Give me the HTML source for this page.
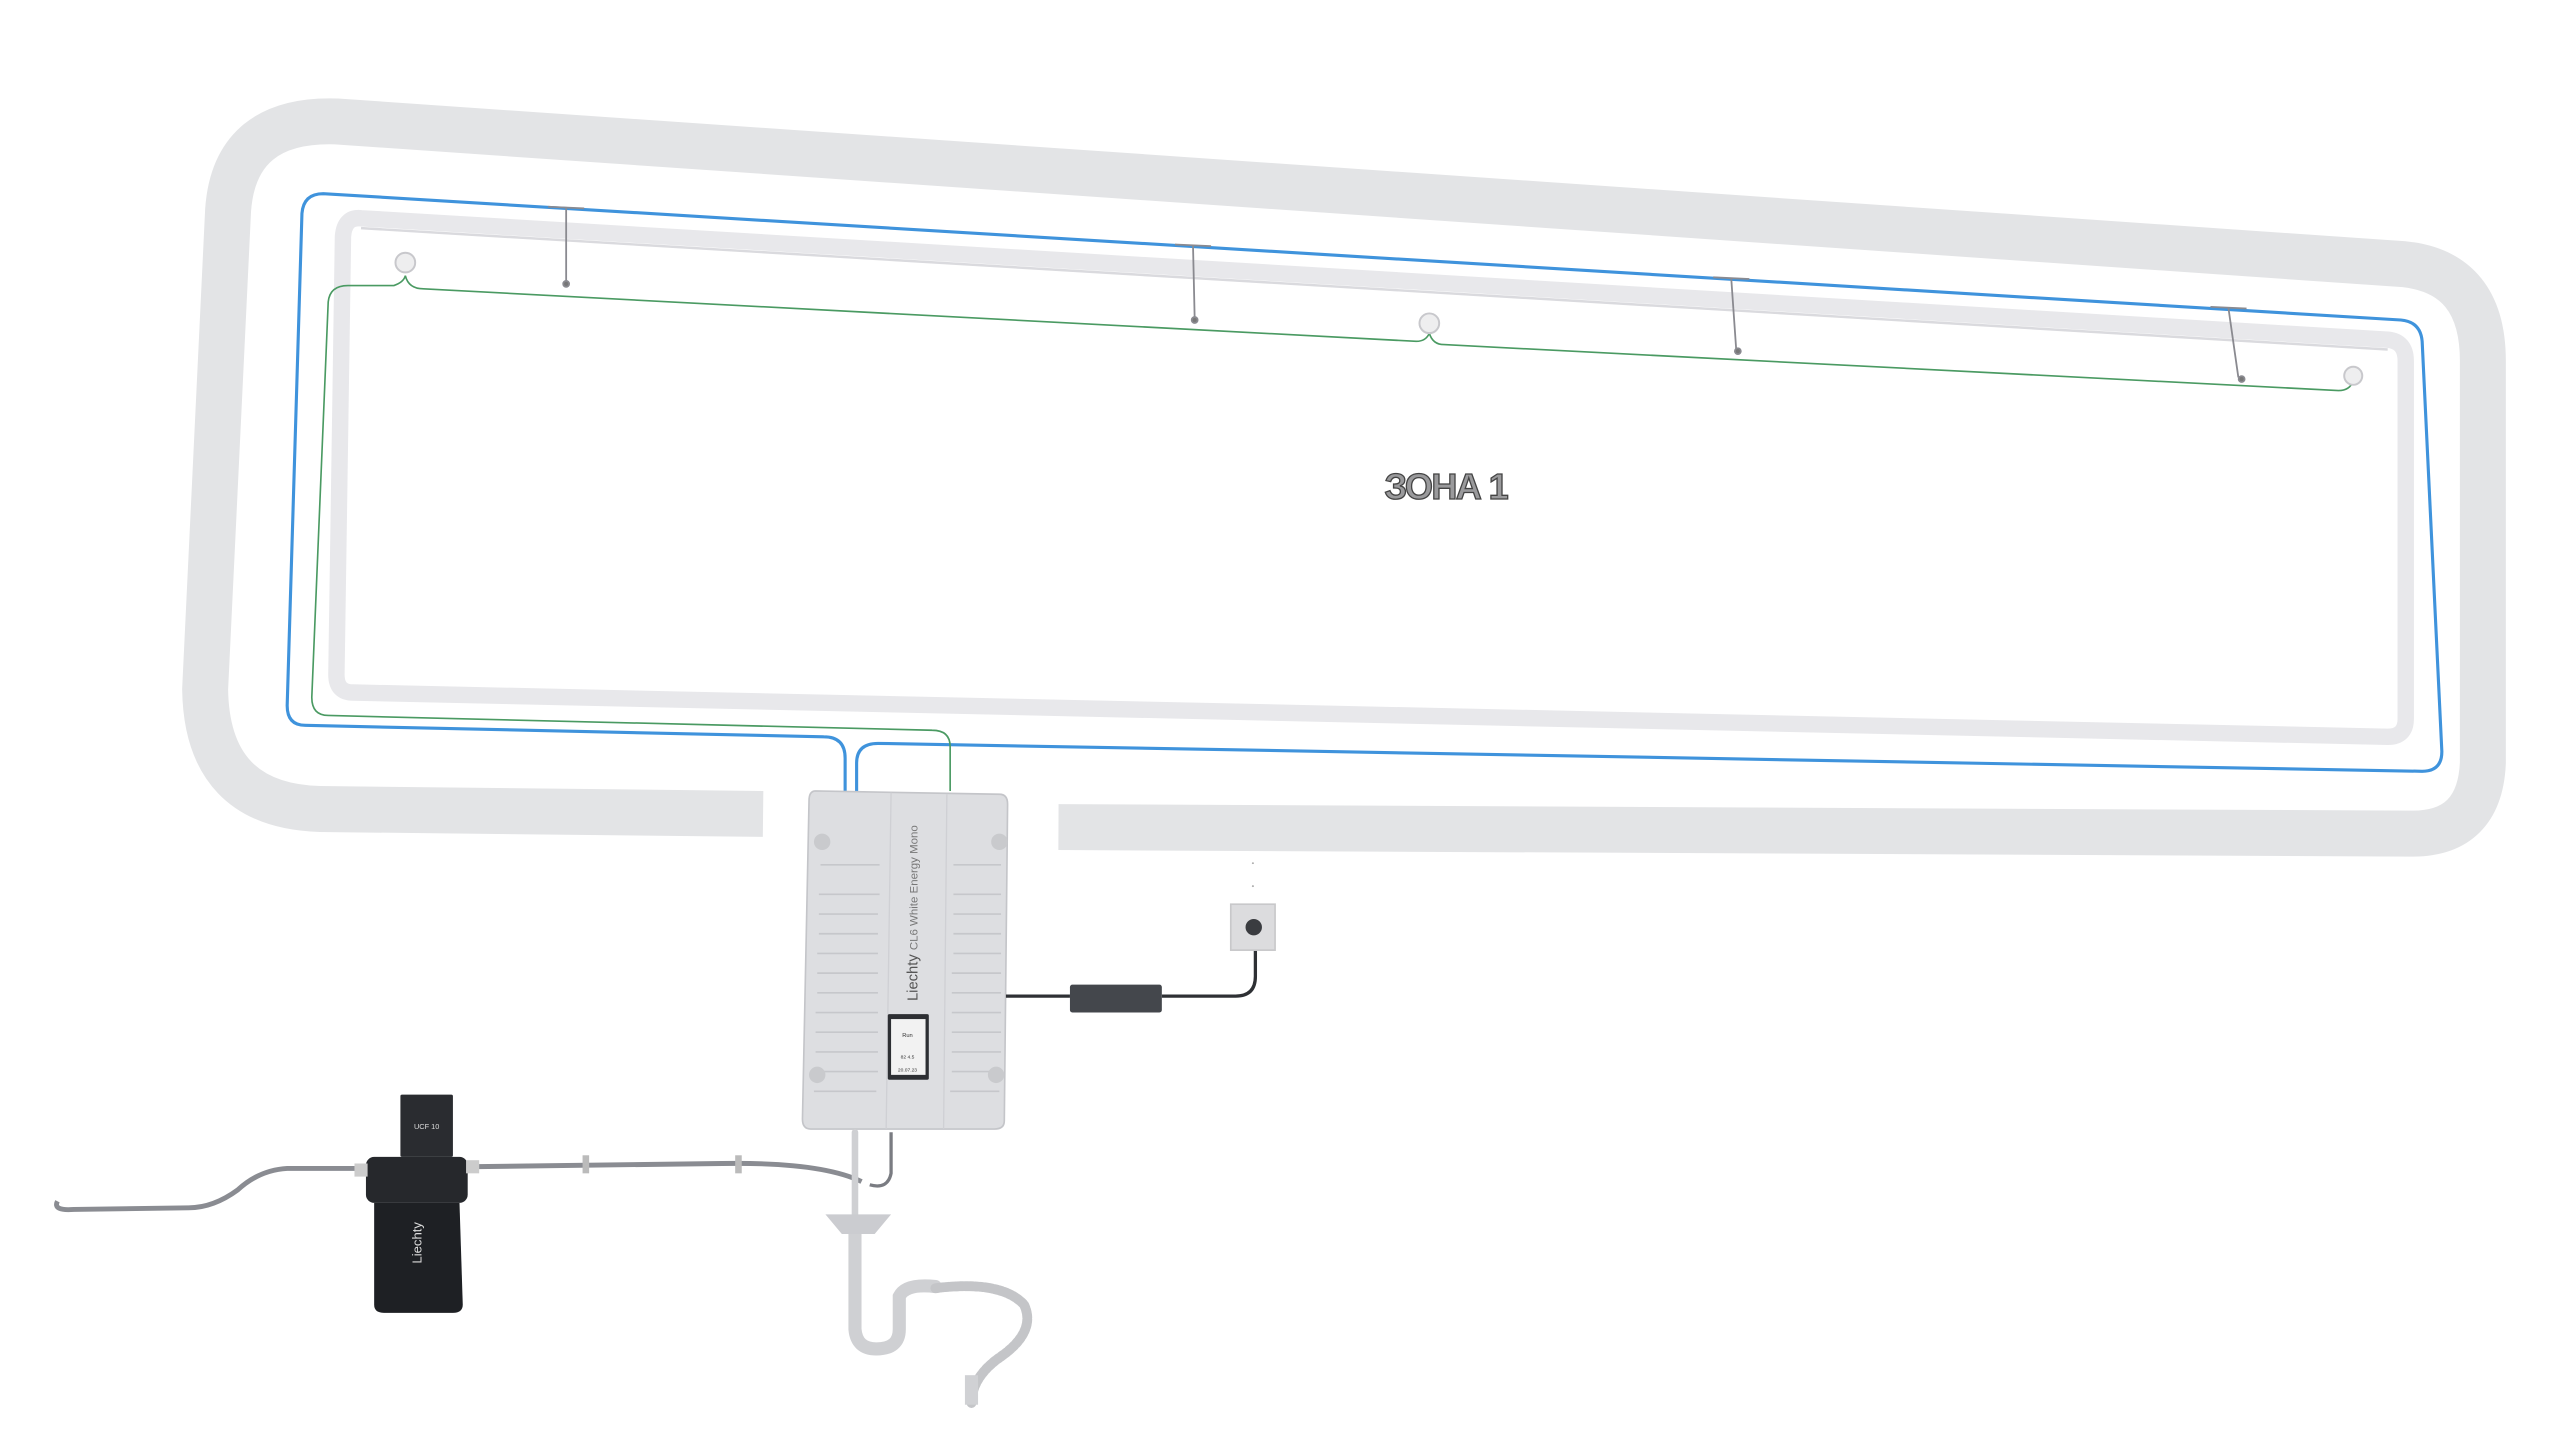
<!DOCTYPE html>
<html><head><meta charset="utf-8"><style>
html,body{margin:0;padding:0;background:#fff;width:2560px;height:1440px;overflow:hidden}
svg{display:block}
text{font-family:"Liberation Sans","Noto Sans CJK SC",sans-serif}
</style></head><body>
<svg width="2560" height="1440" viewBox="0 0 1560 877.5" xmlns="http://www.w3.org/2000/svg">
<!-- outer room band -->
<path d="M465,496 L195,493 Q126,491 125,420 L139,128 Q143,72 205,74 L1465,161 Q1513,166 1513,220 L1513,465 Q1511,508 1470,508 L645,504" fill="none" stroke="#e3e4e6" stroke-width="28" stroke-linejoin="round"/>
<!-- inner zone frame -->
<path d="M220,133 L1455,207 Q1466,208 1466,220 L1466,438 Q1466,449 1455,449 L215,422 Q205,422 205,411 L209,144 Q210,132 220,133 Z" fill="#fff" stroke="#e8e8eb" stroke-width="10"/>
<path d="M220,139 L1455,213" stroke="#dadade" stroke-width="1.5" fill="none"/>
<!-- blue pipes -->
<path d="M515,482 L515,462 Q515,449 502,449 L186,442 Q175,442 175,430 L184,130 Q185,118 197,118 L1463,195 Q1475,196 1476,208 L1488,458 Q1488,470 1476,470 L535,453 Q522,453 522,465 L522,482" fill="none" stroke="#3f93dc" stroke-width="1.9"/>
<!-- green wire -->
<path d="M579,482 L579,455 Q579,445 568,445 L200,436 Q190,436 190,425 L200,184 Q201,174 212,174 L240,174 Q246,172 247,168 Q249,176 258,176 L863,208 Q869,208 871,203 Q873,210 880,210 L1425,238 Q1432,238 1434,232" fill="none" stroke="#4a9a62" stroke-width="1"/>
<!-- sensors -->
<g fill="#eeeeef" stroke="#c8c8cc" stroke-width="1.2">
<circle cx="247" cy="160" r="6"/><circle cx="871" cy="197" r="6"/><circle cx="1434" cy="229" r="5.5"/>
</g>
<!-- hangers -->
<g stroke="#8a8a90" stroke-width="1.1" fill="none">
<path d="M334,126 L356,127 M345,127 L345,172"/><circle cx="345" cy="173" r="1.8" fill="#777"/>
<path d="M716,149 L738,150 M727,150 L728,194"/><circle cx="728" cy="195" r="1.8" fill="#777"/>
<path d="M1044,169 L1066,170 M1055,170 L1058,213"/><circle cx="1059" cy="214" r="1.8" fill="#777"/>
<path d="M1347,187 L1369,188 M1358,188 L1364,230"/><circle cx="1366" cy="231" r="1.8" fill="#777"/>
</g>
<text x="881" y="304" font-size="22" font-weight="bold" fill="#9a9a9c" text-anchor="middle" stroke="#444" stroke-width="0.8" letter-spacing="-1">ЗОНА 1</text>
<!-- controller box -->
<path d="M497,482 L609,484 Q614,484 614,490 L612,683 Q612,688 606,688 L494,688 Q489,688 489,682 L493,488 Q493,482 497,482 Z" fill="#dddee1" stroke="#c4c5c9" stroke-width="1"/>
<line x1="543" y1="483" x2="540" y2="688" stroke="#cfd0d4" stroke-width="0.8"/>
<line x1="577" y1="484" x2="575" y2="688" stroke="#cfd0d4" stroke-width="0.8"/>
<g stroke="#c6c7cb" stroke-width="1">
<path d="M500,527H536M499,545H536M499,557H535M499,569H535M498,581H535M498,593H535M498,605H535M497,617H535M497,629H535M497,641H535M497,653H535M496,665H534"/>
<path d="M581,527H610M581,545H610M581,557H610M581,569H610M581,581H610M580,593H610M580,605H610M580,617H610M580,629H610M580,641H610M580,653H609M579,665H609"/>
</g>
<circle cx="501" cy="513" r="5" fill="#c9cacd"/><circle cx="609" cy="513" r="5" fill="#c9cacd"/>
<circle cx="498" cy="655" r="5" fill="#c9cacd"/><circle cx="607" cy="655" r="5" fill="#c9cacd"/>
<text transform="translate(559,610) rotate(-90)" font-size="9" fill="#555">Liechty <tspan font-size="7" fill="#777">CL6  White Energy Mono</tspan></text>
<rect x="541" y="618" width="25" height="40" fill="#2d2f33" rx="1"/>
<rect x="543" y="621" width="21" height="34" fill="#f2f2f2"/>
<text x="553" y="632" font-size="3.5" text-anchor="middle" fill="#333">Run</text>
<text x="553" y="645" font-size="3" text-anchor="middle" fill="#333">82   4.5</text>
<text x="553" y="653" font-size="3" text-anchor="middle" fill="#333">20.07.23</text>
<!-- power -->
<path d="M613,607 L652,607 M708,607 L753,607 Q765,607 765,595 L765,577" stroke="#2e3034" stroke-width="2" fill="none"/>
<rect x="652" y="600" width="56" height="17" rx="1.5" fill="#44474c"/>
<rect x="750" y="551" width="27" height="28" fill="#dcdcde" stroke="#c8c8ca"/>
<circle cx="764" cy="565" r="5" fill="#3a3c40"/>
<circle cx="763.5" cy="526" r="0.6" fill="#aaa"/><circle cx="763.5" cy="540" r="0.6" fill="#aaa"/>
<!-- hoses -->
<path d="M35,732 Q32,738 45,737 L115,736 Q130,736 145,725 Q158,713 175,712 L225,712" fill="none" stroke="#8a8c92" stroke-width="3"/>
<path d="M285,711 L440,709 Q500,708 525,720" fill="none" stroke="#8a8c92" stroke-width="3"/>
<path d="M543,690 L543,715 Q541,725 530,722" fill="none" stroke="#7a7c82" stroke-width="2"/>
<rect x="355" y="704" width="4" height="11" fill="#bbb"/><rect x="448" y="704" width="4" height="11" fill="#bbb"/>
<!-- drain -->
<g fill="none" stroke="#cfd0d3" stroke-linecap="round">
<path d="M521,690 L521,740" stroke-width="4"/>
<path d="M521,750 L521,810 Q522,822 534,822 Q548,822 548,810 L548,790 Q552,782 570,784" stroke-width="8"/>
<path d="M570,785 Q610,780 624,795 Q632,812 608,828 Q592,840 592,855" stroke="#c4c5c8" stroke-width="6" stroke-dasharray="2 1"/>
</g>
<path d="M503,740 L543,740 L533,752 L513,752 Z" fill="#cbccd0"/>
<rect x="588" y="838" width="8" height="18" fill="#d0d1d4"/>
<!-- filter -->
<rect x="244" y="667" width="32" height="38" fill="#2a2c30" rx="1"/>
<text x="260" y="688" font-size="4.5" fill="#ddd" text-anchor="middle">UCF 10</text>
<rect x="223" y="705" width="62" height="28" rx="5" fill="#26282c"/>
<path d="M228,733 L280,733 L282,795 Q282,800 276,800 L234,800 Q228,800 228,795 Z" fill="#1e2024"/>
<rect x="216" y="709" width="8" height="8" fill="#ccc"/><rect x="284" y="707" width="8" height="8" fill="#ccc"/>
<text transform="translate(257,770) rotate(-90)" font-size="8" fill="#ddd">Liechty</text>
</svg>
</body></html>
